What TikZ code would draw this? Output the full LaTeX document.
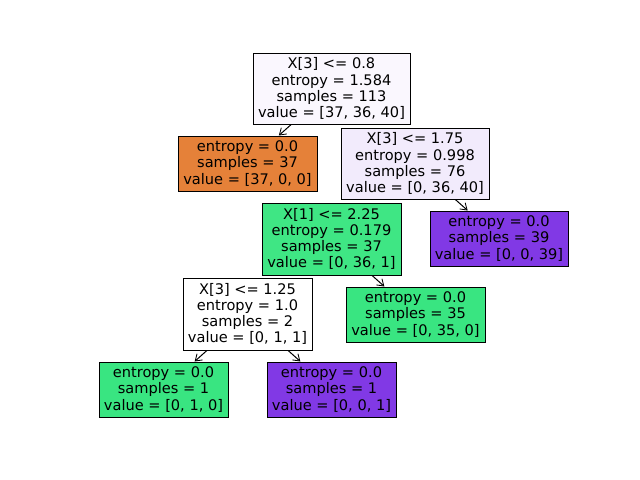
\documentclass[tikz,border=0pt]{standalone}
\usepackage{fontspec}
\setmainfont{DejaVu Sans}
\usetikzlibrary{arrows.meta}
\definecolor{rootc}{RGB}{250,247,254}
\definecolor{orangec}{RGB}{229,129,57}
\definecolor{lightp}{RGB}{242,235,252}
\definecolor{greenb}{RGB}{63,230,132}
\definecolor{greenc}{RGB}{57,229,129}
\definecolor{purplec}{RGB}{129,57,229}
\newcommand{\tkfont}{\fontsize{10.5pt}{11.6pt}\selectfont}
\tikzset{
  treebox/.style={draw=black, line width=0.72pt, inner sep=0pt, align=center, font=\tkfont},
  edgearrow/.style={-{Straight Barb[length=4.5pt,width=6pt,line width=0.6pt]}, line width=0.72pt, black}
}
\begin{document}
\begin{tikzpicture}[x=0.72pt,y=-0.72pt]
\useasboundingbox (0,0) rectangle (640,480);
\node[treebox, fill=rootc, minimum width=157*0.72pt, minimum height=71*0.72pt] (n0) at (331.5,88.5)
  {X[3] <= 0.8\\entropy = 1.584\\samples = 113\\value = [37, 36, 40]};
\node[treebox, fill=orangec, minimum width=139*0.72pt, minimum height=55*0.72pt] (n1) at (247.5,163.5)
  {entropy = 0.0\\samples = 37\\value = [37, 0, 0]};
\node[treebox, fill=lightp, minimum width=148*0.72pt, minimum height=71*0.72pt] (n2) at (415,163.5)
  {X[3] <= 1.75\\entropy = 0.998\\samples = 76\\value = [0, 36, 40]};
\node[treebox, fill=greenb, minimum width=139*0.72pt, minimum height=72*0.72pt] (n3) at (331.5,239)
  {X[1] <= 2.25\\entropy = 0.179\\samples = 37\\value = [0, 36, 1]};
\node[treebox, fill=purplec, minimum width=138*0.72pt, minimum height=55*0.72pt] (n4) at (499,238.5)
  {entropy = 0.0\\samples = 39\\value = [0, 0, 39]};
\node[treebox, fill=white, minimum width=129*0.72pt, minimum height=72*0.72pt] (n5) at (247.5,314)
  {X[3] <= 1.25\\entropy = 1.0\\samples = 2\\value = [0, 1, 1]};
\node[treebox, fill=greenc, minimum width=139*0.72pt, minimum height=55*0.72pt] (n6) at (415.5,314.5)
  {entropy = 0.0\\samples = 35\\value = [0, 35, 0]};
\node[treebox, fill=greenc, minimum width=129*0.72pt, minimum height=55*0.72pt] (n7) at (163.5,389.5)
  {entropy = 0.0\\samples = 1\\value = [0, 1, 0]};
\node[treebox, fill=purplec, minimum width=129*0.72pt, minimum height=55*0.72pt] (n8) at (331.5,389.5)
  {entropy = 0.0\\samples = 1\\value = [0, 0, 1]};
\draw[edgearrow] (n0) -- (n1);
\draw[edgearrow] (n2) -- (n4);
\draw[edgearrow] (n3) -- (n6);
\draw[edgearrow] (n5) -- (n7);
\draw[edgearrow] (n5) -- (n8);
\end{tikzpicture}
\end{document}
